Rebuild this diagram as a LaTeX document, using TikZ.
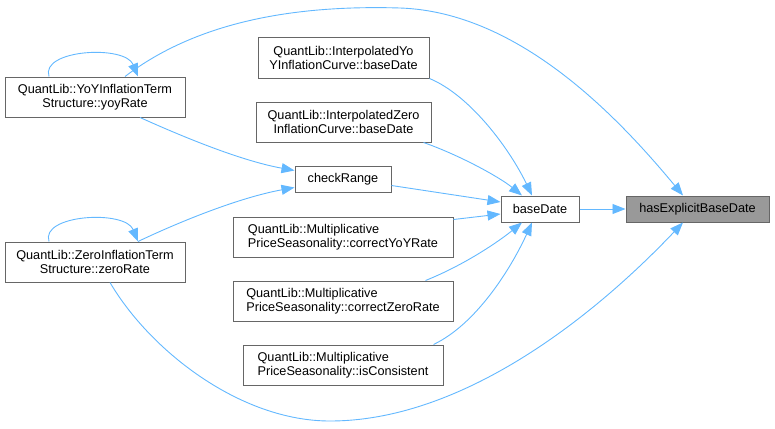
\documentclass[tikz,border=0pt]{standalone}
\usepackage{fontspec}
\setmainfont{Liberation Sans}
\usetikzlibrary{arrows.meta}
\definecolor{edgec}{HTML}{63B8FF}
\definecolor{boxc}{HTML}{666666}
\definecolor{hilite}{HTML}{999999}
\begin{document}
\begin{tikzpicture}[x=1pt,y=-1pt,
  fn/.style={draw=boxc,fill=white,line width=1pt,inner sep=0pt,minimum height=40pt,
    font=\fontsize{12.7}{14}\selectfont,align=center},
  fnl/.style={fn,align=left},
  fns/.style={fn,minimum height=26pt},
  call/.style={draw=edgec,line width=0.9pt,-{Triangle[length=13pt,width=10pt]}}]
\useasboundingbox (0,0) rectangle (775,428);
\node[fn,minimum width=180pt] (yoy) at (95,97) {QuantLib::YoYInflationTerm\\Structure::yoyRate};
\node[fn,minimum width=180pt] (zero) at (95,262) {QuantLib::ZeroInflationTerm\\Structure::zeroRate};
\node[fns,minimum width=96pt] (check) at (343,179.5) {checkRange};
\node[fn,minimum width=171pt] (iyoy) at (343.5,58) {QuantLib::InterpolatedYo\\YInflationCurve::baseDate};
\node[fn,minimum width=175pt] (izero) at (343.5,122) {QuantLib::InterpolatedZero\\InflationCurve::baseDate};
\node[fnl,minimum width=220pt] (cyoy) at (343,237) {QuantLib::Multiplicative\\PriceSeasonality::correctYoYRate};
\node[fnl,minimum width=220pt] (czero) at (343,301) {QuantLib::Multiplicative\\PriceSeasonality::correctZeroRate};
\node[fnl,minimum width=200pt] (cons) at (343,365) {QuantLib::Multiplicative\\PriceSeasonality::isConsistent};
\node[fns,minimum width=78pt] (base) at (540,209) {baseDate};
\node[fns,minimum width=143pt,fill=hilite] (has) at (697.5,209) {hasExplicitBaseDate};

\draw[call] (base.east) -- (has.west);
% yoyRate -> hasExplicitBaseDate
\draw[call] ([xshift=30pt]yoy.north) .. controls +(75,-57) and +(-100,-3) .. (400,8)
  .. controls +(120,4) and +(-63,-76) .. ([xshift=-14.5pt]has.north);
% zeroRate -> hasExplicitBaseDate
\draw[call] ([xshift=15pt]zero.south) .. controls +(40,68) and +(-90,0) .. (330,421)
  .. controls +(130,0) and +(-93,98) .. ([xshift=-14.5pt]has.south);
% self loops
\draw[call] ([xshift=-46pt]yoy.north) .. controls +(-9,-27) and +(-13,-32) .. ([xshift=43pt]yoy.north);
\draw[call] ([xshift=-46pt]zero.north) .. controls +(-9,-27) and +(-13,-32) .. ([xshift=43pt]zero.north);
% -> checkRange
\draw[call] ([xshift=45pt]yoy.south) .. controls +(40,18) and +(-55,-10) .. ([yshift=9pt]check.west);
\draw[call] ([xshift=43pt]zero.north) .. controls +(42,-20) and +(-55,10) .. ([yshift=-8pt]check.west);
% -> baseDate
\draw[call] ([yshift=-6pt]check.east) -- ([yshift=7pt]base.west);
\draw[call] (iyoy.south east) .. controls +(41,17) and +(-22,-46) .. ([xshift=-8pt]base.north);
\draw[call] ([xshift=-8pt]izero.south east) .. controls +(37,13) and +(-22,-18) .. ([xshift=-18pt]base.north);
\draw[call] ([yshift=-3pt]cyoy.north east) -- ([yshift=-5pt]base.west);
\draw[call] ([xshift=-28pt]czero.north east) .. controls +(40,-16) and +(-22,18) .. ([xshift=-18pt]base.south);
\draw[call] ([xshift=-10pt]cons.north east) .. controls +(42,-20) and +(-22,48) .. ([xshift=-8pt]base.south);
\end{tikzpicture}
\end{document}
